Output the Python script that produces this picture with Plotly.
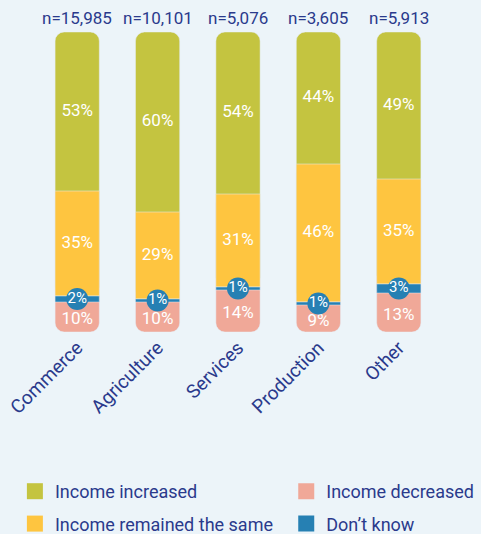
import plotly.graph_objects as go
import numpy as np

categories = ["Commerce", "Agriculture", "Services", "Production", "Other"]
n_labels = ["n=15,985", "n=10,101", "n=5,076", "n=3,605", "n=5,913"]
income_increased = [53, 60, 54, 44, 49]
income_same = [35, 29, 31, 46, 35]
dont_know = [2, 1, 1, 1, 3]
income_decreased = [10, 10, 14, 9, 13]

GREEN = "#c4c440"
YELLOW = "#fec540"
PINK = "#f0a898"
BLUE = "#2680b3"
NAVY = "#2a3a8c"
BG = "#ecf4f9"
FONT = "Roboto, Arial, sans-serif"

inc = np.array(income_increased)
same = np.array(income_same)
dk = np.array(dont_know)
dec = np.array(income_decreased)
base_dk = dec
base_same = dec + dk
base_inc = dec + dk + same
zero = np.zeros_like(dec)

fig = go.Figure()
# rounded bottom part (visible portion = income decreased)
fig.add_trace(go.Bar(x=categories, y=base_inc, base=zero, marker=dict(color=PINK, cornerradius=9),
                     showlegend=False, name="Income decreased", hoverinfo="skip"))
# rounded top part (visible portion = income increased)
fig.add_trace(go.Bar(x=categories, y=100 - base_same, base=base_same, marker=dict(color=GREEN, cornerradius=9),
                     showlegend=False, name="Income increased", hoverinfo="skip"))
fig.add_trace(go.Bar(x=categories, y=same, base=base_same, marker=dict(color=YELLOW),
                     showlegend=False, name="Income remained the same"))
fig.add_trace(go.Bar(x=categories, y=dk, base=base_dk, marker=dict(color=BLUE),
                     showlegend=False, name="Don't know"))

# labels
lab_font = dict(family=FONT, size=17, color="white")
fig.add_trace(go.Scatter(x=categories, y=base_inc + inc / 2, mode="text",
                         text=[f"{v}%" for v in inc], textfont=lab_font, showlegend=False, hoverinfo="skip"))
fig.add_trace(go.Scatter(x=categories, y=base_same + same / 2, mode="text",
                         text=[f"{v}%" for v in same], textfont=lab_font, showlegend=False, hoverinfo="skip"))
fig.add_trace(go.Scatter(x=categories, y=dec / 2 - 1, mode="text",
                         text=[f"{v}%" for v in dec], textfont=lab_font, showlegend=False, hoverinfo="skip"))
fig.add_trace(go.Scatter(x=categories, y=base_dk + dk / 2, mode="markers+text",
                         marker=dict(size=22, color=BLUE),
                         text=[f"{v}%" for v in dk], textposition="middle center",
                         textfont=dict(family=FONT, size=15, color="white"),
                         showlegend=False, hoverinfo="skip"))

# legend entries
leg = [("Income increased", GREEN, "legend", "a"),
       ("Income remained the same", YELLOW, "legend", "b"),
       ("Income decreased", PINK, "legend2", "c"),
       ("Don\u2019t know", BLUE, "legend2", "d")]
for name, col, lg, grp in leg:
    fig.add_trace(go.Scatter(x=[None], y=[None], mode="markers", name=name,
                             marker=dict(symbol="square", size=16, color=col),
                             legend=lg, legendgroup=grp, showlegend=True))

for c, t in zip(categories, n_labels):
    fig.add_annotation(x=c, y=100, text=t, showarrow=False, yanchor="bottom", yshift=2,
                       font=dict(family=FONT, size=17, color=NAVY))

leg_font = dict(family=FONT, size=18, color=NAVY)
fig.update_layout(
    width=481, height=534,
    margin=dict(l=37, r=42, t=32, b=202, autoexpand=False),
    paper_bgcolor=BG, plot_bgcolor=BG,
    barmode="overlay", bargap=0.45,
    font=dict(family=FONT, color=NAVY),
    xaxis=dict(tickangle=-45, tickfont=dict(family=FONT, size=19, color=NAVY), automargin=False,
               showline=False, showgrid=False, zeroline=False, ticks=""),
    yaxis=dict(range=[0, 100], visible=False, automargin=False),
    legend=dict(x=-0.055, y=-0.47, xanchor="left", yanchor="top", orientation="v",
                font=leg_font, tracegroupgap=6, bgcolor="rgba(0,0,0,0)"),
    legend2=dict(x=0.62, y=-0.47, xanchor="left", yanchor="top", orientation="v",
                 font=leg_font, tracegroupgap=6, bgcolor="rgba(0,0,0,0)"),
)

fig.write_html("out.html", config={"displayModeBar": False},
               post_script="document.body.style.margin='0';")
